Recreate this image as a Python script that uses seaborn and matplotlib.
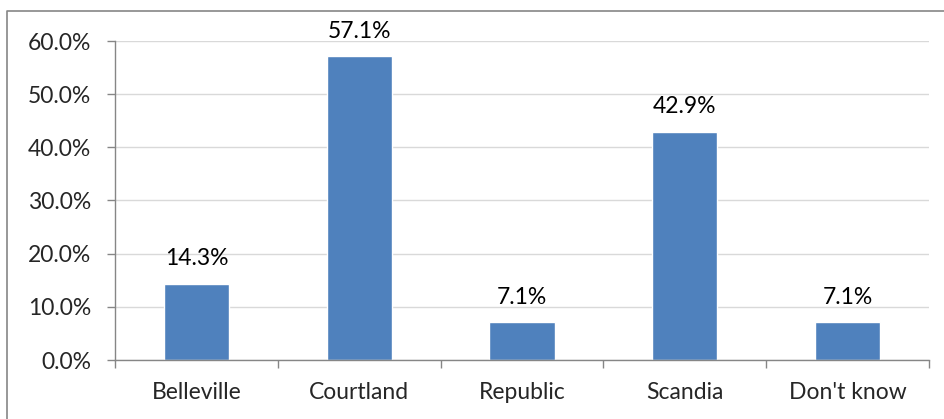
import matplotlib
matplotlib.use("Agg")
import matplotlib.pyplot as plt
from matplotlib.lines import Line2D
import seaborn as sns
import pandas as pd

categories = ["Belleville", "Courtland", "Republic", "Scandia", "Don't know"]
values = [14.3, 57.1, 7.1, 42.9, 7.1]
yticks = [0, 10, 20, 30, 40, 50, 60]

sns.set_style("white")
plt.rcParams['font.family'] = ['Lato', 'DejaVu Sans']

FS = 16.5
W, H = 944, 419
fig = plt.figure(figsize=(W / 100, H / 100), dpi=100)
ax = fig.add_axes([115 / W, 1 - 360 / H, (929 - 115) / W, (360 - 41) / H])

df = pd.DataFrame({"cat": categories, "val": values})
sns.barplot(data=df, x="cat", y="val", color="#4F81BD", saturation=1, width=0.4, ax=ax)

ax.set_ylim(0, 60)
ax.set_xlim(-0.5, len(categories) - 0.5)
ax.set_yticks(yticks)
ax.set_yticklabels([f"{t:.1f}%" for t in yticks])
ax.set_xlabel("")
ax.set_ylabel("")
ax.yaxis.grid(True, color="#D9D9D9", linewidth=1)
ax.set_axisbelow(True)

for s in ["top", "right"]:
    ax.spines[s].set_visible(False)
for s in ["left", "bottom"]:
    ax.spines[s].set_color("#868686")
    ax.spines[s].set_linewidth(1)

ax.tick_params(axis="y", which="both", length=6, width=1, color="#868686", pad=11,
               labelsize=FS, left=True)
ax.tick_params(axis="x", which="major", length=0, pad=16, labelsize=FS)
ax.set_xticks(range(len(categories)))
ax.set_xticks([i - 0.5 for i in range(len(categories) + 1)], minor=True)
ax.tick_params(axis="x", which="minor", length=6, width=1, color="#868686", bottom=True)

for i, v in enumerate(values):
    ax.annotate(f"{v:.1f}%", (i, v), xytext=(0, 13.5), textcoords="offset points",
                ha="center", va="baseline", fontsize=FS, color="black")

# outer chart border
fig.add_artist(Line2D([7 / W, 7 / W, 1.0], [0.0, 1 - 11 / H, 1 - 11 / H],
                      transform=fig.transFigure, color="#868686", linewidth=1.2))

fig.savefig("out.png", dpi=100)
